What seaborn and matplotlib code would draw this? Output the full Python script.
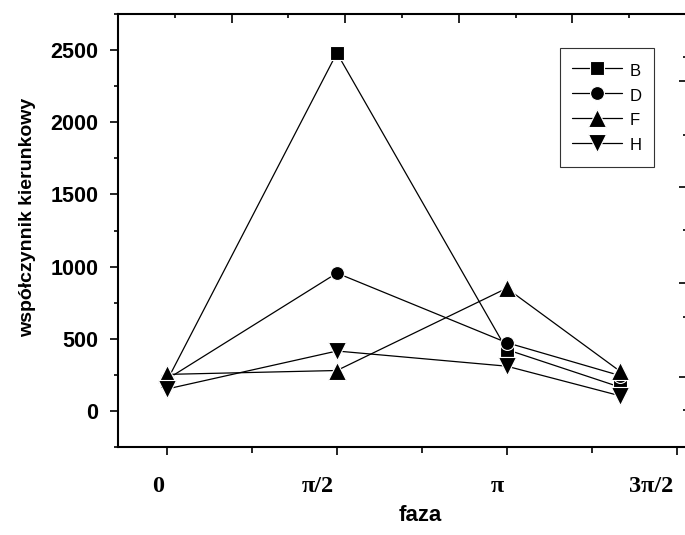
import matplotlib
matplotlib.use("Agg")
import matplotlib.pyplot as plt
import matplotlib.transforms as mtransforms
from matplotlib.ticker import MultipleLocator, FixedLocator, NullFormatter
import pandas as pd
import seaborn as sns

# faza w stopniach (0, pi/2, pi, 4pi/3)
faza = [0, 90, 180, 240]
seria_B = [210, 2480, 425, 165]
seria_D = [220, 955, 473, 245]
seria_F = [253, 280, 850, 275]
seria_H = [152, 415, 310, 105]

nazwy = ["B", "D", "F", "H"]
znaczniki = {"B": "s", "D": "o", "F": "^", "H": "v"}
rozmiary = {"B": 9.5, "D": 10, "F": 12.5, "H": 12.5}

etykiety_x = ["0", "π/2", "π", "3π/2"]
pozycje_x = [0, 90, 180, 270]

dane = pd.DataFrame({
    "faza": faza * 4,
    "wartosc": seria_B + seria_D + seria_F + seria_H,
    "seria": [n for n in nazwy for _ in faza],
})

sns.set_style("ticks")
plt.rcParams["font.family"] = ["Liberation Sans", "DejaVu Sans"]
plt.rcParams["text.color"] = "black"
plt.rcParams["axes.labelcolor"] = "black"
plt.rcParams["xtick.color"] = "black"
plt.rcParams["ytick.color"] = "black"

fig = plt.figure(figsize=(6.85, 5.35), dpi=100)
ax = fig.add_axes([118 / 685, 88 / 535, 568 / 685, 433 / 535])

for n in nazwy:
    sns.lineplot(
        data=dane[dane["seria"] == n],
        x="faza",
        y="wartosc",
        color="black",
        marker=znaczniki[n],
        markersize=rozmiary[n],
        markeredgecolor="white",
        markeredgewidth=0.8,
        linewidth=0.9,
        label=n,
        ax=ax,
    )

ax.set_xlim(-26, 275)
ax.set_ylim(-250, 2750)

for s in ["left", "bottom", "top"]:
    ax.spines[s].set_linewidth(1.5)
    ax.spines[s].set_color("black")
ax.spines["right"].set_visible(False)
ax.spines["top"].set_visible(True)

ax.xaxis.set_major_locator(FixedLocator(pozycje_x))
ax.xaxis.set_minor_locator(FixedLocator([45, 135, 225]))
ax.set_xticklabels(etykiety_x, fontfamily="Liberation Serif", fontweight="bold", fontsize=17.5)
ax.yaxis.set_major_locator(MultipleLocator(500))
ax.yaxis.set_minor_locator(MultipleLocator(250))
ax.tick_params(axis="x", which="major", direction="out", length=6, width=1.2, pad=15,
               top=False, colors="black")
ax.tick_params(axis="x", which="minor", direction="out", length=4, width=1.2, top=False)
ax.tick_params(axis="y", which="major", direction="out", length=6, width=1.2, pad=8,
               labelsize=15.5, right=False, colors="black")
ax.tick_params(axis="y", which="minor", direction="out", length=3, width=1.2, right=False)
for t in ax.get_yticklabels():
    t.set_fontweight("bold")

przes = mtransforms.ScaledTranslation(-3 / 100, 0, fig.dpi_scale_trans)
for t in ax.get_xticklabels():
    t.set_horizontalalignment("right")
    t.set_transform(t.get_transform() + przes)

ax.set_xlabel("faza", fontsize=16, fontweight="bold")
ax.set_ylabel("współczynnik kierunkowy", fontsize=14, fontweight="bold")
ax.xaxis.set_label_coords(0.532, -0.135)
ax.yaxis.set_label_coords(-0.145, 0.531)

leg = ax.legend(
    loc="upper left",
    bbox_to_anchor=(0.778, 0.9215),
    borderaxespad=0,
    fontsize=12,
    frameon=True,
    fancybox=False,
    framealpha=1,
    edgecolor="#333333",
    handlelength=3.0,
    handleheight=1.45,
    handletextpad=0.45,
    labelspacing=0.3,
    borderpad=0.75,
)
leg.get_frame().set_linewidth(0.8)

# górna oś (osobna skala)
ax_top = ax.twiny()
ax_top.set_xlim(0, 5)
ax_top.xaxis.set_major_locator(MultipleLocator(1))
ax_top.xaxis.set_minor_locator(MultipleLocator(0.5))
ax_top.xaxis.set_major_formatter(NullFormatter())
ax_top.tick_params(axis="x", which="major", direction="in", length=6.5, width=1.2)
ax_top.tick_params(axis="x", which="minor", direction="in", length=3, width=1.2)
for s in ax_top.spines.values():
    s.set_visible(False)

# prawa oś (osobna skala)
ax_r = ax.twinx()
ax_r.set_ylim(0, 433)
ax_r.yaxis.set_major_locator(FixedLocator([70, 164, 260, 366]))
ax_r.yaxis.set_minor_locator(FixedLocator([37, 130, 217, 312, 390]))
ax_r.yaxis.set_major_formatter(NullFormatter())
ax_r.tick_params(axis="y", which="major", direction="in", length=5, width=1.2)
ax_r.tick_params(axis="y", which="minor", direction="in", length=2.5, width=1.2)
for s in ax_r.spines.values():
    s.set_visible(False)

fig.savefig("out.png", dpi=100)
